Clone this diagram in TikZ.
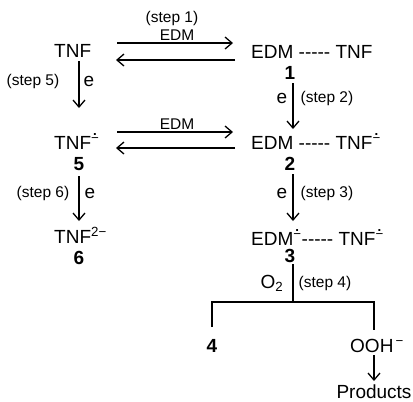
\documentclass[tikz,border=0pt]{standalone}
\usepackage{fontspec}
\setmainfont{Liberation Sans}[Ligatures={}]
\usetikzlibrary{arrows.meta}
% radical anion mark: a small dot over a minus
\newcommand{\radan}{\textsuperscript{\ooalign{\hfil\raisebox{0.55em}{\textbf{.}}\hfil\cr−\cr}}}
\begin{document}
\begin{tikzpicture}[x=1pt,y=-1pt,
  chem/.style={font=\fontsize{19}{21}\selectfont,inner sep=0pt,anchor=base},
  cmpd/.style={font=\fontsize{19}{21}\selectfont\bfseries,inner sep=0pt,anchor=base},
  lbl/.style={font=\fontsize{15.5}{17}\selectfont,inner sep=0pt,anchor=base},
  rxn/.style={line width=1.3pt,-{Straight Barb[length=7pt,width=12pt,line width=1.3pt]}},
  bond/.style={line width=1.3pt}]
\useasboundingbox (0,0) rectangle (413,402);

% left column: free acceptor
\node[chem,anchor=base west] (tnf) at (54,57) {TNF};
\node[chem,anchor=base west] (tnf5) at (54,149) {TNF\radan};
\node[cmpd] (n5) at (79,170) {5};
\node[chem,anchor=base west] (tnf6) at (54,243) {TNF\textsuperscript{2−}};
\node[cmpd] (n6) at (79,264) {6};

% right column: complexes
\node[chem,anchor=base west] (c1) at (251,58) {EDM -{}-{}-{}-{}- TNF};
\node[cmpd] (n1) at (290,79) {1};
\node[chem,anchor=base west] (c2) at (251,149) {EDM -{}-{}-{}-{}- TNF\radan};
\node[cmpd] (n2) at (290,170) {2};
\node[chem,anchor=base west] (c3) at (251,245) {EDM\radan-{}-{}-{}-{}- TNF\radan};
\node[cmpd] (n3) at (290,262) {3};

% products of step 4
\node[cmpd] (n4) at (212,352) {4};
\node[chem,anchor=base west] (ooh) at (350,352) {OOH\textsuperscript{\,−}};
\node[chem] (prod) at (374,398) {Products};

% equilibrium between TNF and complex 1
\coordinate (a1s) at (117,43); \coordinate (a1e) at (233,43);
\coordinate (b1s) at (235,60); \coordinate (b1e) at (116,60);
\draw[rxn] (a1s) -- (a1e);
\draw[rxn] (b1s) -- (b1e);
\node[lbl] (s1) at (172,22) {(step 1)};
\node[lbl] (e1) at (177,40) {EDM};

% equilibrium between 5 and complex 2
\coordinate (a2s) at (117,132); \coordinate (a2e) at (233,132);
\coordinate (b2s) at (235,148); \coordinate (b2e) at (116,148);
\draw[rxn] (a2s) -- (a2e);
\draw[rxn] (b2s) -- (b2e);
\node[lbl] (e2) at (177,129) {EDM};

% step 5 and step 6: reduction of free TNF
\coordinate (v5s) at (79,61); \coordinate (v5e) at (79,108);
\draw[rxn] (v5s) -- (v5e);
\node[lbl] (s5) at (33,85) {(step 5)};
\node[chem] (e5) at (89,86) {e};
\coordinate (v6s) at (79,176); \coordinate (v6e) at (79,221);
\draw[rxn] (v6s) -- (v6e);
\node[lbl] (s6) at (43,197) {(step 6)};
\node[chem] (e6) at (90,198) {e};

% step 2 and step 3: reduction of the complexes
\coordinate (v2s) at (293,83); \coordinate (v2e) at (293,129);
\draw[rxn] (v2s) -- (v2e);
\node[chem] (e2r) at (282,103) {e};
\node[lbl] (s2) at (327,102) {(step 2)};
\coordinate (v3s) at (293,174); \coordinate (v3e) at (293,221);
\draw[rxn] (v3s) -- (v3e);
\node[chem] (e3r) at (282,198) {e};
\node[lbl] (s3) at (327,197) {(step 3)};

% step 4: oxygen, branching to 4 and hydroperoxide
\coordinate (t4) at (293,264); \coordinate (br) at (293,302);
\coordinate (bl) at (212,302); \coordinate (brr) at (374,302);
\coordinate (bld) at (212,327); \coordinate (brd) at (374,330);
\draw[bond] (t4) -- (br);
\draw[bond] (bld) -- (bl) -- (brr) -- (brd);
\node[chem] (o2) at (272,288) {O\textsubscript{2}};
\node[lbl] (s4) at (325,287) {(step 4)};
\coordinate (p1) at (374,355); \coordinate (p2) at (374,381);
\draw[rxn] (p1) -- (p2);
\end{tikzpicture}
\end{document}
